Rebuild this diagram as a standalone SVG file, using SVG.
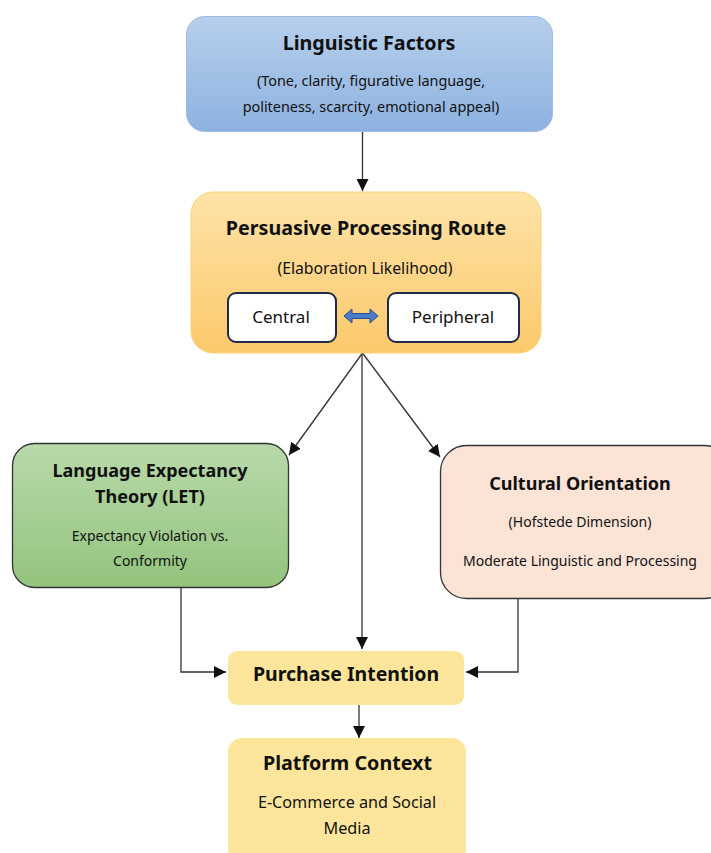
<svg xmlns="http://www.w3.org/2000/svg" width="711" height="853" viewBox="0 0 711 853">
<defs>
<linearGradient id="gBlue" x1="0" y1="0" x2="0" y2="1"><stop offset="0" stop-color="#b7cfec"/><stop offset="1" stop-color="#8db2e0"/></linearGradient>
<linearGradient id="gOrange" x1="0" y1="0" x2="0" y2="1"><stop offset="0" stop-color="#fee3a8"/><stop offset="1" stop-color="#fbc96b"/></linearGradient>
<linearGradient id="gGreen" x1="0" y1="0" x2="0" y2="1"><stop offset="0" stop-color="#b9d9aa"/><stop offset="1" stop-color="#93c47d"/></linearGradient>
<marker id="arr" viewBox="0 0 10 10" refX="10" refY="5" markerWidth="12" markerHeight="12" markerUnits="userSpaceOnUse" orient="auto"><path d="M0,0 L10,5 L0,10 z" fill="#111"/></marker>
<style>
.t{font-family:"Noto Sans","Open Sans","Liberation Sans",sans-serif;fill:#111;text-anchor:middle}
.h{font-weight:bold;font-size:18px}
.H{font-weight:bold;font-size:19.7px}
.s{font-size:14px}
.m{font-size:17px}
.c{fill:none;stroke:#333;stroke-width:1.3}
</style>
</defs>
<g id="connectors">
<line class="c" x1="362.5" y1="131" x2="362.5" y2="191" marker-end="url(#arr)"/>
<line class="c" x1="362.5" y1="353" x2="289" y2="455" marker-end="url(#arr)"/>
<line class="c" x1="362.5" y1="353" x2="440" y2="457" marker-end="url(#arr)"/>
<line class="c" x1="362" y1="353" x2="362" y2="649" marker-end="url(#arr)"/>
<polyline class="c" points="181,587 181,672 226,672" marker-end="url(#arr)"/>
<polyline class="c" points="518,598 518,672 466,672" marker-end="url(#arr)"/>
<line class="c" x1="359" y1="705" x2="359" y2="738" marker-end="url(#arr)"/>
</g>
<g id="linguistic">
<rect x="186.5" y="16.5" width="366" height="115" rx="18" fill="url(#gBlue)" stroke="#9dbde4" stroke-width="1"/>
<text class="t H" x="369" y="50">Linguistic Factors</text>
<text class="t" style="font-size:14.4px" x="371" y="86">(Tone, clarity, figurative language,</text>
<text class="t" style="font-size:14.4px" x="371" y="112">politeness, scarcity, emotional appeal)</text>
</g>
<g id="persuasive">
<rect x="191" y="192" width="350" height="161" rx="22" fill="url(#gOrange)" stroke="#fbd37b" stroke-width="1"/>
<text class="t H" x="366" y="235">Persuasive Processing Route</text>
<text class="t" style="font-size:15.8px" x="365" y="274">(Elaboration Likelihood)</text>
<rect x="228" y="293" width="108" height="49" rx="8" fill="#fff" stroke="#1f2a4a" stroke-width="2"/>
<text class="t m" x="281" y="323">Central</text>
<rect x="388" y="293" width="131" height="49" rx="8" fill="#fff" stroke="#1f2a4a" stroke-width="2"/>
<text class="t m" x="453" y="323">Peripheral</text>
<path d="M344,316 L352,309 L352,313.5 L370,313.5 L370,309 L378,316 L370,323 L370,318.5 L352,318.5 L352,323 z" fill="#4a7cc7" stroke="#2a4f8f" stroke-width="1"/>
</g>
<g id="let">
<rect x="12.5" y="443.5" width="276" height="144" rx="22" fill="url(#gGreen)" stroke="#333" stroke-width="1.3"/>
<text class="t h" x="150" y="477">Language Expectancy</text>
<text class="t h" x="150" y="503">Theory (LET)</text>
<text class="t s" x="150" y="541">Expectancy Violation vs.</text>
<text class="t s" x="150" y="566">Conformity</text>
</g>
<g id="cultural">
<rect x="440.5" y="445.5" width="290" height="153" rx="26" fill="#fbe3d6" stroke="#333" stroke-width="1.3"/>
<text class="t h" x="580" y="490">Cultural Orientation</text>
<text class="t s" x="580" y="527">(Hofstede Dimension)</text>
<text class="t s" x="580" y="566">Moderate Linguistic and Processing</text>
</g>
<g id="purchase">
<rect x="228" y="651" width="236" height="54" rx="9" fill="#fde69b"/>
<text class="t" style="font-weight:bold;font-size:19.5px" x="346" y="681">Purchase Intention</text>
</g>
<g id="platform">
<rect x="228" y="738" width="238" height="125" rx="14" fill="#fde69b"/>
<text class="t H" x="347.5" y="770">Platform Context</text>
<text class="t" style="font-size:16.2px" x="347" y="808">E-Commerce and Social</text>
<text class="t" style="font-size:16.2px" x="347" y="834">Media</text>
</g>
</svg>
